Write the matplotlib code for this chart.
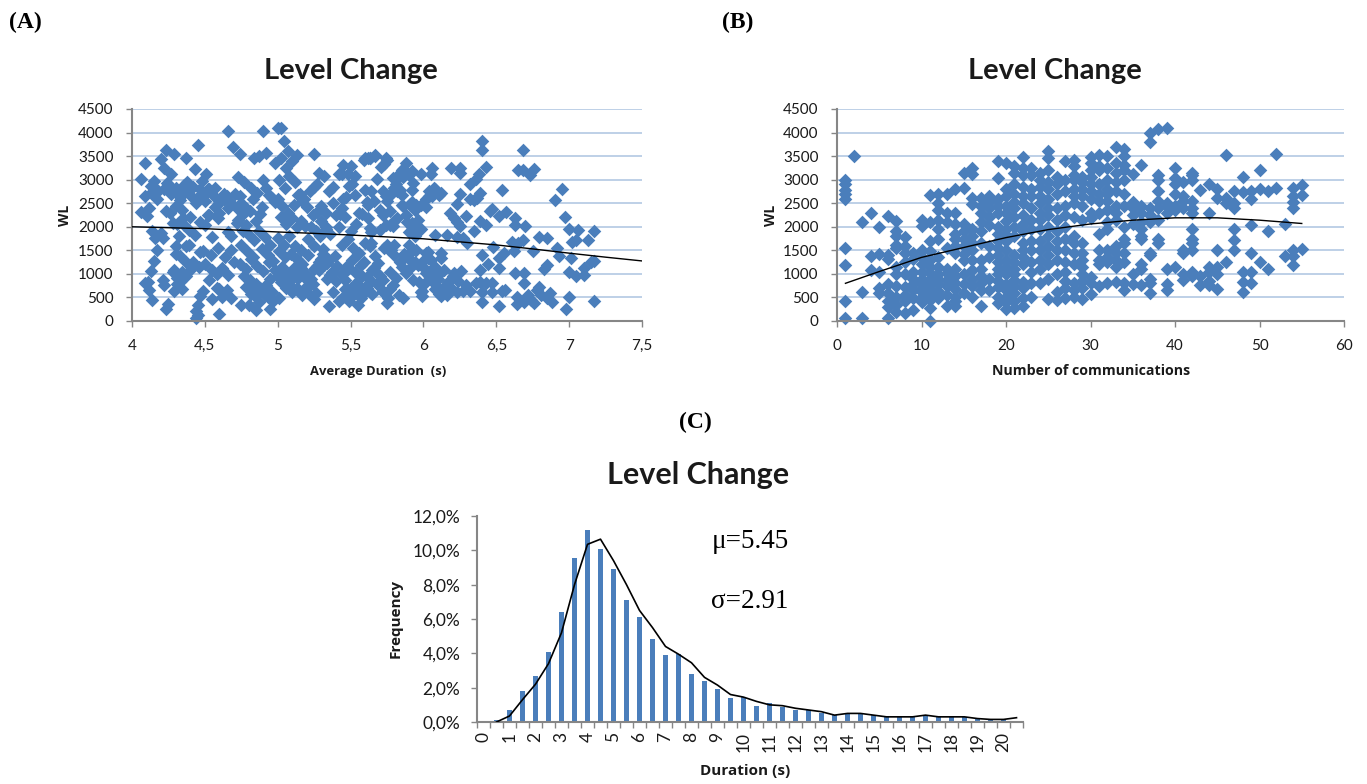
import numpy as np
import matplotlib
matplotlib.use('Agg')
import matplotlib.pyplot as plt

W, H = 1367, 784

# (A) average duration vs WL
a_duration = [
    4.06,4.09,4.06,4.12,4.10,4.09,4.13,4.15,4.17,4.13,
    4.17,4.14,4.20,4.16,4.21,4.17,4.15,4.13,4.09,4.11,
    4.12,4.14,4.23,4.25,4.21,4.22,4.23,4.29,4.20,4.37,
    4.22,4.27,4.43,4.45,4.51,4.24,4.27,4.30,4.33,4.36,
    4.26,4.30,4.34,4.38,4.41,4.44,4.47,4.40,4.35,4.31,
    4.23,4.28,4.32,4.36,4.39,4.43,4.30,4.33,4.37,4.42,
    4.46,4.29,4.34,4.37,4.40,4.31,4.29,4.28,4.31,4.34,
    4.33,4.37,4.39,4.30,4.45,4.44,4.44,4.45,4.60,4.62,
    4.48,4.52,4.56,4.50,4.47,4.53,4.57,4.60,4.63,4.55,
    4.49,4.54,4.59,4.64,4.68,4.47,4.50,4.55,4.58,4.62,
    4.66,4.70,4.53,4.60,4.62,4.65,4.68,4.47,4.49,4.55,
    4.58,4.63,4.66,4.52,4.50,4.59,4.66,4.68,4.72,4.76,
    4.66,4.69,4.74,4.90,4.92,4.84,4.87,4.73,4.77,4.82,
    4.86,4.90,4.71,4.75,4.79,4.83,4.88,4.92,4.96,4.73,
    4.78,4.81,4.85,4.89,4.94,4.98,4.76,4.80,4.84,4.87,
    4.91,4.95,4.75,4.79,4.83,4.89,4.93,4.97,4.74,4.78,
    4.82,4.86,4.90,4.94,4.98,4.77,4.81,4.85,4.91,4.95,
    4.80,4.84,4.88,4.92,4.96,4.75,4.78,4.82,4.85,4.88,
    4.93,4.97,4.80,4.84,4.87,4.91,4.95,5.00,5.02,5.04,
    5.07,4.98,5.02,5.06,5.10,5.13,5.01,5.05,5.08,5.12,
    5.15,5.18,5.22,5.25,5.00,5.03,5.07,5.11,5.14,5.17,
    5.20,5.24,5.27,5.30,5.33,5.02,5.06,5.10,5.13,5.16,
    5.19,5.23,5.26,5.29,5.33,5.00,5.04,5.08,5.12,5.16,
    5.21,5.25,5.31,5.36,5.01,5.05,5.09,5.13,5.17,5.21,
    5.25,5.28,5.31,5.35,5.39,5.03,5.07,5.11,5.15,5.19,
    5.23,5.27,5.30,5.34,5.37,5.41,5.00,5.04,5.08,5.12,
    5.16,5.20,5.24,5.28,5.32,5.36,5.40,5.44,5.02,5.06,
    5.10,5.14,5.18,5.22,5.26,5.30,5.34,5.38,5.42,5.46,
    5.01,5.05,5.09,5.13,5.17,5.21,5.25,5.35,5.43,5.42,
    5.45,5.48,5.51,5.47,5.44,5.49,5.53,5.56,5.46,5.50,
    5.54,5.58,5.61,5.44,5.48,5.52,5.56,5.60,5.64,5.47,
    5.51,5.55,5.59,5.63,5.67,5.45,5.49,5.53,5.57,5.61,
    5.65,5.69,5.46,5.50,5.54,5.58,5.62,5.66,5.70,5.48,
    5.52,5.56,5.60,5.64,5.68,5.72,5.45,5.49,5.53,5.57,
    5.61,5.65,5.55,5.59,5.63,5.67,5.71,5.74,5.60,5.64,
    5.68,5.72,5.76,5.72,5.75,5.78,5.81,5.84,5.87,5.73,
    5.77,5.80,5.83,5.86,5.90,5.93,5.75,5.78,5.82,5.85,
    5.88,5.91,5.94,5.74,5.79,5.82,5.86,5.89,5.92,5.95,
    5.76,5.80,5.84,5.87,5.91,5.96,5.73,5.77,5.81,5.85,
    5.88,5.93,5.77,5.79,5.83,5.86,5.90,5.94,5.97,5.99,
    6.02,6.05,6.08,6.11,6.14,5.98,6.01,6.04,6.07,6.10,
    6.13,6.16,6.00,6.03,6.06,6.09,6.12,6.15,6.18,6.21,
    6.24,6.27,5.99,6.02,6.05,6.08,6.11,6.14,6.17,6.20,
    6.23,6.26,6.29,6.32,6.19,6.25,6.25,6.38,6.36,6.32,
    6.40,6.40,6.68,6.43,6.65,6.68,6.73,6.76,6.95,6.90,
    6.54,6.97,7.00,7.06,7.17,7.13,7.02,7.05,6.79,6.85,
    6.92,6.93,7.01,7.15,7.17,7.10,7.00,7.05,7.10,7.00,
    6.98,7.17,6.87,6.85,6.88,6.81,6.79,6.78,6.85,6.83,
    6.69,6.63,6.69,6.75,6.68,6.61,6.65,6.62,6.55,6.48,
    6.52,6.52,6.44,6.40,6.39,6.64,6.64,6.69,6.72,6.74,
    6.76,6.52,6.56,6.54,6.47,6.47,6.43,6.39,6.36,6.40,
    6.40,6.63,6.63,6.70,6.57,6.52,6.47,6.46,6.43,6.39,
    6.35,6.29,6.23,6.25,6.39,6.37,6.32,6.35,6.18,6.21,
    6.25,6.23,6.16,6.08,6.23,6.27,6.30,
    6.04,6.08,6.11,6.06,6.02,5.98,5.94,5.90,5.92,5.95,
    5.28,5.32,5.25,5.27,5.35,5.38,5.33,5.30,5.40,5.42,
    5.45,5.38,5.44,5.50,5.53,5.62,5.60,5.63,5.67,5.75,
    5.68,5.64,5.72,5.74,5.66,5.62,5.70,5.72,5.77,5.62,
    5.63,5.70,5.77,5.80,5.92,5.96,5.97,5.95,5.91,5.95,
    5.98,6.02,6.04,6.07,6.12,5.92,5.80,5.84,5.85,5.79,
    5.86,5.88,5.85,5.92,5.98,6.05,6.06,5.64,5.75,5.80,
    5.90,5.91,5.87,5.95,6.03,6.03,6.12,6.12,5.99,
    4.18,4.22,4.25,4.32,4.36,4.38,4.42,4.46,4.50,4.53,
    4.57,4.60,4.65,4.68,4.72,4.74,
]
a_wl = [
    3020,3345,2305,2400,2235,2660,2860,2970,2790,2720,
    2590,1900,1865,1760,1760,1510,1275,1060,810,830,
    655,455,260,370,870,760,3630,3540,3440,3470,
    3250,3130,3220,3730,3110,2920,2700,2830,2560,2890,
    2300,2450,2350,2780,2640,2500,2810,2200,2180,2060,
    2330,2070,1800,2040,1940,1830,1590,1390,1600,1260,
    1140,1080,1030,960,1090,790,640,1050,920,680,
    820,1250,1620,1420,350,220,60,130,150,1100,
    2980,2810,2660,2550,2100,2250,2420,2300,2700,1780,
    1480,1400,1560,1350,1510,1470,1200,1090,1000,1120,
    980,1250,860,680,500,650,490,530,640,470,
    700,2590,2400,2240,2040,2180,1880,1800,2090,2280,
    4030,3700,3540,4030,3570,3460,3510,3050,2950,2830,
    2720,3000,2700,2500,2380,2590,2280,2830,2620,2150,
    2040,2340,2120,2420,2680,2530,1900,1830,1710,1920,
    1780,1620,1620,1480,1360,1530,1400,1280,1200,1100,
    1320,1160,1060,1250,1080,950,870,780,640,900,
    730,580,700,760,620,330,720,570,230,640,
    500,420,350,550,400,560,260,4100,4100,3820,
    3600,3345,3450,3250,3400,3530,3000,2830,3080,2940,
    2700,2590,2770,2850,2600,2450,2300,2460,2680,2550,
    2420,2240,2320,2130,2000,2210,2050,2190,2000,2130,
    2010,1990,1900,1800,1960,1760,1620,1800,1600,1500,
    1730,1600,1520,1840,1490,1360,1420,1310,1220,1400,
    1100,1250,1420,1300,1380,1150,1000,1120,1260,1020,
    900,1160,1310,1240,1040,1160,950,860,760,1000,
    1120,870,780,1080,1180,970,840,990,830,710,
    620,920,680,760,590,1260,890,610,420,680,
    480,1000,860,700,560,600,460,310,2270,3130,
    3310,3120,2900,2640,2400,2870,2680,2300,2200,1900,
    2050,2280,2530,1620,1740,1560,1450,1660,1890,1150,
    1300,1420,1260,1600,1380,1000,1130,1030,1180,930,
    1080,1240,860,700,800,950,780,1120,960,660,
    560,740,620,850,1020,880,510,430,620,480,
    700,570,330,3420,3450,3500,3260,3470,2780,590,
    780,640,490,620,380,1500,2900,3150,3210,3340,
    2680,2830,3050,3230,3100,2930,2540,2700,2760,2460,
    2260,2480,2350,2030,2020,2180,2440,2100,2000,1970,
    1520,1400,1260,1430,1300,1190,1550,1040,920,1150,
    1010,860,680,770,560,490,1100,1250,830,640,
    1450,1290,1140,1000,1090,610,800,950,1150,900,
    650,560,1150,1030,880,750,540,620,730,1010,
    850,640,530,1020,860,670,570,720,830,950,
    610,1060,760,640,3240,3250,3145,3110,3020,2910,
    3820,3620,3630,3270,3200,3215,3090,3230,2800,2575,
    2775,2205,1950,1935,1920,1720,1670,1720,1780,1770,
    1560,1390,1330,1260,1270,1130,1050,950,975,510,
    250,420,585,480,405,550,725,655,1190,1100,
    1010,1010,800,1495,1720,1670,1650,1480,1450,1580,
    1330,1120,1210,1400,1080,510,370,405,550,440,
    390,310,655,635,620,800,810,830,800,620,
    405,2185,2040,2010,2310,2220,2380,2330,2040,2130,
    1900,2220,2490,2700,2720,2610,2590,2560,2290,2185,
    2010,2110,1830,1830,1790,1760,1665,
    2750,2800,2680,2660,2590,1950,1800,1890,2520,2430,
    3145,3075,3540,2900,2750,2500,2300,2450,2250,2000,
    2600,2850,3110,3290,3075,3465,3465,3465,3520,3420,
    3020,2750,2750,2650,2540,2470,2360,2250,2330,2185,
    1970,1935,2040,2115,2080,2150,1935,1860,2470,2470,
    2470,2430,2660,2825,2720,2790,2825,2790,2680,3040,
    3060,3345,3215,3180,3110,3110,3240,1650,1615,1615,
    1615,1440,1400,1510,1475,1330,1440,1330,1260,
    2750,2800,2900,2650,2720,2950,2850,2650,2700,2800,
    2830,2500,2650,2500,2400,2650,
]

# (B) number of communications vs WL, one list per integer count
b_counts = list(range(1, 56))
b_wl = [
    [60,420,1180,1550,2600,2700,2780,2900,3000],
    [3500],
    [60,610,2100],
    [1080,1380,2290],
    [600,700,1030,1420,2000],
    [60,300,430,600,780,1320,1400,2220],
    [200,350,500,750,1000,1150,1550,1620,1800,1920,2130],
    [170,420,560,720,1000,1250,1440,1600,1780],
    [230,480,650,780,900,1050,1320,1450],
    [400,520,620,700,800,900,1050,1200,1350,1500,2020,2150],
    [10,280,450,550,680,780,900,1020,1150,1300,1480,1700,2100,2670],
    [480,560,640,780,900,1000,1150,1350,1750,1950,2150,2350,2500,2700],
    [320,560,740,880,1020,1100,1550,2100,2300,2700],
    [320,430,520,680,800,960,1100,1450,1600,1750,1850,2050,2300,2800],
    [600,780,1000,1300,1420,1600,1750,1900,2050,2820,3150],
    [500,750,900,1080,1300,1500,1650,1800,1950,2480,2620,3130,3250],
    [320,650,800,950,1100,1300,1650,1900,2100,2300,2450,2620],
    [650,900,1350,1600,2030,2200,2400,2530,2650],
    [380,520,730,850,1000,1100,1250,1400,1550,1700,1850,2000,2300,2450,2580,3030,3400],
    [250,400,500,650,780,1000,1150,1300,1500,1700,1820,1950,2120,2300,2450,2650,2800,3350],
    [280,420,600,750,880,1000,1100,1250,1400,1800,2000,2200,2400,2520,2700,2900,3150,3300],
    [320,480,700,820,1200,1350,1500,1650,1900,2050,2250,2500,2650,2850,3100,3250,3480],
    [500,800,1050,1250,1500,1700,1950,2150,2400,2650,2800,3100,3250],
    [800,1100,1300,1500,1700,1950,2150,2300,2500,2650,2850,3000,3150],
    [470,900,1200,1400,1600,1800,2000,2250,2400,2600,2800,2950,3200,3450,3600],
    [450,620,1000,1300,1500,1700,1900,2150,2400,2700,2900,3050],
    [480,700,850,1050,1250,1500,1750,2000,2250,2450,2750,3000,3400],
    [500,650,800,1200,1450,1650,1800,2200,2500,2650,2800,3000,3100,3300,3420],
    [470,700,850,1000,1150,1300,1450,1650,2150,2450,2650,2800,2950,3050],
    [580,800,940,2180,2300,2600,2750,2900,3050,3200,3350,3480],
    [750,1200,1300,1500,1850,2300,2550,2700,2900,3200,3300,3530],
    [800,1250,1350,1500,1950,2100,2350,2550,2700,2800,3000,3250,3500],
    [820,1150,1300,1450,1600,2150,2300,2450,2750,2950,3150,3350,3700],
    [660,800,1250,1450,1650,1750,2000,2450,2700,3000,3200,3320,3500,3660],
    [780,1000,2050,2250,2400,2520,3120],
    [770,1100,1200,1750,1800,1950,2100,2300,2450,3320],
    [600,800,900,1400,1450,2100,2250,2400,3800,4000],
    [1650,1750,2150,2400,2550,2750,3000,3100,4070],
    [650,780,1100,2300,2450,2500,4100],
    [1150,2350,2450,2700,2900,3030,3250],
    [860,1000,1450,1500,2400,2550,2650,2950],
    [950,1050,1500,1650,1750,1950,2300,2400,2550,3000,3100,3150],
    [760,950,2780],
    [770,850,1050,1150,2300,2900],
    [680,1000,1150,1500,2620,2800],
    [1250,2500,2620,3530],
    [1500,1720,1950,2400,2500,2750],
    [620,820,1050,2740,3050],
    [810,1050,1440,2030,2590,2750],
    [1250,2800,3200],
    [1100,1900,2750],
    [2830,3550],
    [1390,2060],
    [1190,1380,1500,2400,2520,2650,2830],
    [1520,2680,2880],
]

# trend lines
a_trend_x = [4, 4.25, 4.5, 4.75, 5, 5.25, 5.5, 5.75, 6, 6.25, 6.5, 6.75, 7, 7.25, 7.5]
a_trend_y = [2000, 1980, 1960, 1925, 1890, 1860, 1825, 1785, 1745, 1680, 1615, 1530, 1440, 1355, 1275]
b_trend_x = [1, 5, 10, 15, 20, 25, 30, 35, 40, 45, 50, 55]
b_trend_y = [800, 1050, 1350, 1560, 1770, 1940, 2060, 2140, 2190, 2190, 2140, 2070]

# (C) duration histogram, bins of half a second
c_freq = [0.0, 0.1, 0.7, 1.8, 2.7, 4.05, 6.4, 9.55, 11.2, 10.05, 8.9, 7.1, 6.1, 4.85,
          3.9, 3.95, 2.8, 2.4, 1.9, 1.4, 1.45, 0.95, 1.1, 0.85, 0.7, 0.7, 0.5, 0.4,
          0.45, 0.45, 0.4, 0.3, 0.3, 0.3, 0.4, 0.3, 0.3, 0.3, 0.2, 0.1, 0.1, 0.0]
c_line = [0.0, 0.35, 1.3, 2.2, 3.4, 5.2, 8.0, 10.35, 10.65, 9.4, 8.0, 6.5, 5.5, 4.4,
          3.95, 3.45, 2.6, 2.15, 1.6, 1.45, 1.2, 1.0, 0.95, 0.8, 0.7, 0.6, 0.4, 0.5,
          0.5, 0.4, 0.3, 0.3, 0.3, 0.4, 0.3, 0.3, 0.3, 0.2, 0.15, 0.15, 0.25]
c_labels = [str(i) for i in range(21)]

plt.rcParams['font.family'] = ['Lato', 'DejaVu Sans']
BLUE = '#4a7ebb'
GRID = '#b9cde5'
SPINE = '#868686'
TXT = '#1a1a1a'
LABEL_FONT = ['Open Sans', 'DejaVu Sans']


def px_axes(fig, left, right, top, bottom):
    return fig.add_axes([left / W, 1 - bottom / H, (right - left) / W, (bottom - top) / H])


def ftext(fig, x, y, s, **kw):
    kw.setdefault('ha', 'center')
    kw.setdefault('va', 'center')
    return fig.text(x / W, 1 - y / H, s, **kw)


def style(ax, size=11, ypad=9.3):
    for side in ['top', 'right']:
        ax.spines[side].set_visible(False)
    for side in ['left', 'bottom']:
        ax.spines[side].set_color(SPINE)
        ax.spines[side].set_linewidth(1.5)
    ax.tick_params(colors=SPINE, labelcolor=TXT, labelsize=size, length=4, width=1)
    ax.tick_params(axis='y', pad=ypad)


def scatter_panel(ax, xs, ys, tx, ty, xlim, xticks, xlabels):
    ax.set_axisbelow(True)
    ax.grid(axis='y', color=GRID, lw=1.3)
    ax.scatter(xs, ys, marker='D', s=48, color=BLUE, linewidths=0, zorder=2, clip_on=False)
    ax.plot(tx, ty, color='black', lw=1.0, zorder=3)
    ax.set_xlim(*xlim)
    ax.set_ylim(0, 4500)
    ax.set_yticks(range(0, 4501, 500))
    ax.set_xticks(xticks, xlabels)
    style(ax)
    ax.tick_params(axis='x', pad=9)


fig = plt.figure(figsize=(W / 100, H / 100), dpi=100)

ax_a = px_axes(fig, 132, 642, 109, 321)
scatter_panel(ax_a, a_duration, a_wl, a_trend_x, a_trend_y, (4, 7.5),
              [4, 4.5, 5, 5.5, 6, 6.5, 7, 7.5], ['4', '4,5', '5', '5,5', '6', '6,5', '7', '7,5'])

b_x = np.repeat(b_counts, [len(v) for v in b_wl])
b_y = np.concatenate(b_wl)
ax_b = px_axes(fig, 837, 1344, 109, 321)
scatter_panel(ax_b, b_x, b_y, b_trend_x, b_trend_y, (0, 60),
              range(0, 61, 10), [str(v) for v in range(0, 61, 10)])

ax_c = px_axes(fig, 477, 1023, 516, 722)
pos = np.arange(len(c_freq))
ax_c.bar(pos, c_freq, width=0.45, color=BLUE, zorder=2)
ax_c.plot(pos[1:], c_line, color='black', lw=1.2, zorder=3)
ax_c.set_xlim(-0.5, 41.5)
ax_c.set_ylim(0, 12)
ax_c.set_yticks(range(0, 13, 2), [f'{v},0%' for v in range(0, 13, 2)])
ax_c.set_xticks(np.arange(-0.5, 42, 1), [])
ax_c.set_xticks(np.arange(0, 41, 2), c_labels, minor=True, rotation=90)
style(ax_c, size=12.5, ypad=8)
ax_c.tick_params(axis='x', which='minor', length=0, labelsize=12.5, labelcolor=TXT, pad=7)

# titles, axis names, panel letters
for x, y, size in [(351, 71, 21), (1055, 71, 21), (698, 475, 22)]:
    ftext(fig, x, y, 'Level Change', fontsize=size, fontweight='bold', color=TXT)
for x, y, s, size in [(378, 371, 'Average Duration  (s)', 9.4), (1091, 371, 'Number of communications', 10.2),
                      (745, 771, 'Duration (s)', 11)]:
    ftext(fig, x, y, s, fontsize=size, fontweight='bold', family=LABEL_FONT, color=TXT)
for x, y, s, size in [(65, 215, 'WL', 10), (771, 215, 'WL', 10), (396, 618, 'Frequency', 11)]:
    ftext(fig, x, y, s, fontsize=size, fontweight='bold', family=LABEL_FONT, color=TXT, rotation=90)
serif = ['Liberation Serif', 'DejaVu Serif']
for x, y, s in [(25, 22, '(A)'), (738, 22, '(B)'), (695, 422, '(C)')]:
    ftext(fig, x, y, s, fontsize=17, fontweight='bold', family=serif, color='black')
ftext(fig, 750, 541, 'μ=5.45', fontsize=19.5, family=serif, color='black')
ftext(fig, 750, 602, 'σ=2.91', fontsize=19.5, family=serif, color='black')

fig.savefig('out.png', dpi=100)
